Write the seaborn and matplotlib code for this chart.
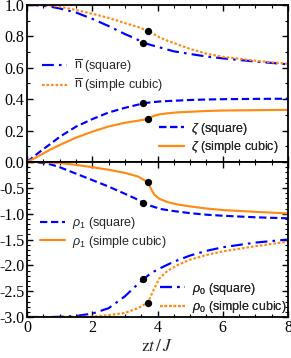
import matplotlib
matplotlib.use("Agg")
import matplotlib.pyplot as plt
import seaborn as sns
from matplotlib.ticker import MultipleLocator

# x grids (square lattice / simple cubic lattice)
x_sq = [0, 0.25, 0.5, 0.75, 1.0, 1.5, 2.0, 2.5, 3.0, 3.3, 3.57, 3.8, 4.1, 4.5, 5.0, 5.5, 6.0, 7.0, 8.0]
x_sc = [0, 0.25, 0.5, 0.75, 1.0, 1.5, 2.0, 2.5, 3.0, 3.4, 3.70, 3.8, 3.9, 4.05, 4.3, 4.6, 5.0, 5.5, 6.0, 7.0, 8.0]

# top panel
nbar_sq = [1.0, 0.999, 0.995, 0.988, 0.978, 0.952, 0.912, 0.866, 0.815, 0.788, 0.76, 0.745, 0.728, 0.705, 0.688, 0.672, 0.66, 0.64, 0.622]
nbar_sc = [1.0, 0.9995, 0.998, 0.995, 0.99, 0.968, 0.944, 0.918, 0.885, 0.86, 0.835, 0.825, 0.813, 0.795, 0.773, 0.75, 0.72, 0.69, 0.67, 0.645, 0.625]
zeta_sq = [0.0, 0.042, 0.082, 0.12, 0.16, 0.225, 0.273, 0.315, 0.345, 0.36, 0.374, 0.38, 0.386, 0.39, 0.395, 0.398, 0.4, 0.402, 0.403]
zeta_sc = [0.0, 0.026, 0.055, 0.083, 0.108, 0.155, 0.193, 0.226, 0.25, 0.263, 0.274, 0.285, 0.295, 0.303, 0.31, 0.316, 0.32, 0.325, 0.328, 0.33, 0.332]

# bottom panel
rho1_sq = [0.0, -0.003, -0.02, -0.05, -0.1, -0.225, -0.35, -0.475, -0.615, -0.7, -0.79, -0.85, -0.91, -0.95, -0.99, -1.02, -1.04, -1.07, -1.09]
rho1_sc = [0.0, 0.0, -0.004, -0.01, -0.02, -0.055, -0.1, -0.15, -0.21, -0.28, -0.39, -0.52, -0.63, -0.71, -0.775, -0.82, -0.86, -0.9, -0.93, -0.965, -0.995]
rho0_sq = [-3.0, -3.0, -3.0, -3.0, -2.995, -2.98, -2.935, -2.83, -2.6, -2.42, -2.27, -2.15, -2.05, -1.93, -1.81, -1.72, -1.65, -1.56, -1.5]
rho0_sc = [-3.0, -3.0, -3.0, -3.0, -3.0, -2.998, -2.99, -2.965, -2.92, -2.83, -2.72, -2.59, -2.45, -2.26, -2.11, -2.0, -1.89, -1.8, -1.73, -1.63, -1.54]

# marked points
dot_x = [3.57, 3.70]
dots_top = [[0.76, 0.835], [0.374, 0.274]]
dots_bot = [[-0.79, -0.39], [-2.27, -2.72]]

xticks = [0, 2, 4, 6, 8]
top_yticks = [0.0, 0.2, 0.4, 0.6, 0.8, 1.0]
top_ylabels = ["0.0", "0.2", "0.4", "0.6", "0.8", "1.0"]
bot_yticks = [-3.0, -2.5, -2.0, -1.5, -1.0, -0.5, 0.0]
bot_ylabels = ["-3.0", "-2.5", "-2.0", "-1.5", "-1.0", "-0.5", ""]

blue = "#0000FF"
orange = "#FF8A14"

sns.set_style("ticks")
plt.rcParams["font.family"] = ["Liberation Serif", "DejaVu Serif"]
plt.rcParams["axes.unicode_minus"] = False
plt.rcParams["mathtext.fontset"] = "custom"
plt.rcParams["mathtext.rm"] = "Liberation Sans"
plt.rcParams["mathtext.it"] = "Liberation Sans:italic"

fig = plt.figure(figsize=(2.91, 3.58), dpi=100)
ax1 = fig.add_axes([27 / 291, 1 - 162 / 358, 261 / 291, 157 / 358])
ax2 = fig.add_axes([27 / 291, 1 - 317 / 358, 261 / 291, 155 / 358])

lw = 1.55
dashdot = (0, (5.5, 2.4, 1.2, 2.4))
dashed = (0, (3.4, 1.7))
dotted = (0, (1.2, 0.9))

sns.lineplot(x=x_sq, y=nbar_sq, ax=ax1, color=blue, lw=lw, linestyle=dashdot)
sns.lineplot(x=x_sc, y=nbar_sc, ax=ax1, color=orange, lw=lw, linestyle=dotted)
sns.lineplot(x=x_sq, y=zeta_sq, ax=ax1, color=blue, lw=lw, linestyle=dashed)
sns.lineplot(x=x_sc, y=zeta_sc, ax=ax1, color=orange, lw=lw, linestyle="-")
for ys in dots_top:
    ax1.scatter(dot_x, ys, s=18, color="black", zorder=5, clip_on=False)

sns.lineplot(x=x_sq, y=rho1_sq, ax=ax2, color=blue, lw=lw, linestyle=dashed)
sns.lineplot(x=x_sc, y=rho1_sc, ax=ax2, color=orange, lw=lw, linestyle="-")
sns.lineplot(x=x_sq, y=rho0_sq, ax=ax2, color=blue, lw=lw, linestyle=dashdot)
sns.lineplot(x=x_sc, y=rho0_sc, ax=ax2, color=orange, lw=lw, linestyle=dotted)
for ys in dots_bot:
    ax2.scatter(dot_x, ys, s=18, color="black", zorder=5, clip_on=False)

leg_kw = dict(frameon=False, fontsize=9, handlelength=2.0, handletextpad=0.55,
              labelspacing=0.2, borderpad=0, borderaxespad=0, loc="center left")


def add_legend(ax, lines, labels, anchor):
    leg = ax.legend(lines, labels, bbox_to_anchor=anchor, **leg_kw)
    for t in leg.get_texts():
        t.set_fontfamily(["Liberation Sans", "DejaVu Sans"])
    ax.add_artist(leg)


l1 = ax1.get_lines()
add_legend(ax1, l1[0:2], [r"$\overline{\mathrm{n}}$ (square)", r"$\overline{\mathrm{n}}$ (simple cubic)"], (0.057, 0.548))
add_legend(ax1, l1[2:4], [r"$\zeta$ (square)", r"$\zeta$ (simple cubic)"], (0.505, 0.153))
l2 = ax2.get_lines()
add_legend(ax2, l2[0:2], [r"$\rho_1$ (square)", r"$\rho_1$ (simple cubic)"], (0.05, 0.545))
add_legend(ax2, l2[2:4], [r"$\rho_0$ (square)", r"$\rho_0$ (simple cubic)"], (0.51, 0.123))

ax1.set_xlim(0, 8)
ax1.set_ylim(0, 1.0)
ax1.set_yticks(top_yticks, top_ylabels)
ax1.set_xticks(xticks)
ax1.tick_params(labelbottom=False)
ax1.yaxis.set_minor_locator(MultipleLocator(0.1))

ax2.set_xlim(0, 8)
ax2.set_ylim(-3.0, 0)
ax2.set_yticks(bot_yticks, bot_ylabels)
ax2.set_xticks(xticks, [str(v) for v in xticks])
ax2.yaxis.set_minor_locator(MultipleLocator(0.1))
ax2.set_xlabel(r"$\mathrm{z}t\,/\,J$", fontsize=12.5, math_fontfamily="stix", labelpad=2)

for ax in (ax1, ax2):
    ax.xaxis.set_minor_locator(MultipleLocator(0.5))
    ax.tick_params(which="both", direction="in", top=True, right=True, colors="black",
                   labelsize=11.5, pad=2)
    ax.tick_params(which="major", length=4.5, width=1.0)
    ax.tick_params(which="minor", length=2.5, width=0.8)
    for s in ax.spines.values():
        s.set_linewidth(1.3)
        s.set_color("black")
    ax.set_ylabel("")

fig.savefig("out.png", dpi=100)
